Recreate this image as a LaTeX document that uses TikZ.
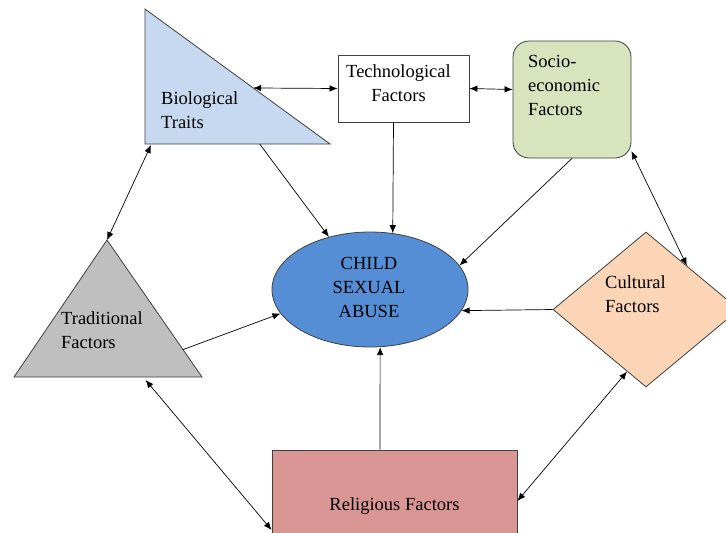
\documentclass[tikz,border=0pt]{standalone}
\usepackage{fontspec}
\setmainfont{Liberation Serif}
\usetikzlibrary{shapes.geometric,arrows.meta,calc}
\definecolor{bioblue}{RGB}{198,217,240}
\definecolor{tradgray}{RGB}{191,191,191}
\definecolor{socgreen}{RGB}{215,228,189}
\definecolor{csablue}{RGB}{85,142,213}
\definecolor{cultorange}{RGB}{251,213,181}
\definecolor{relpink}{RGB}{217,150,148}
\tikzset{
  shapebox/.style={draw=black!75, line width=0.8pt},
  txt/.style={inner sep=0pt, align=left, anchor=west},
}
\begin{document}
\begin{tikzpicture}[x=1pt, y=-1pt, font=\fontsize{18.5}{24}\selectfont,
    >={Latex[length=8pt,width=6.5pt]}]
  \useasboundingbox[fill=white] (0,0) rectangle (726,533);
  \clip (0,0) rectangle (726,533);
  \coordinate (bio-top) at (145,9);
  \coordinate (bio-bl) at (145,144);
  \coordinate (bio-br) at (330,144);
  \coordinate (trad-top) at (107,240);
  \coordinate (trad-bl) at (14,377);
  \coordinate (trad-br) at (202,377);
  \draw[shapebox, fill=bioblue] (bio-top) -- (bio-bl) -- (bio-br) -- cycle;
  \draw[shapebox, fill=tradgray] (trad-top) -- (trad-bl) -- (trad-br) -- cycle;
  \node[txt] (bio) at (161,110) {Biological\\Traits};
  \node[txt] (trad) at (61,330) {Traditional\\Factors};
  \node[shapebox, rectangle, fill=white, minimum width=131pt, minimum height=67pt]
    (tech) at (403.5,88.5) {};
  \node[inner sep=0pt, align=center] (tech-lbl) at (398.5,83) {Technological\\Factors};
  \node[shapebox, rectangle, rounded corners=16pt, fill=socgreen,
    minimum width=118pt, minimum height=117pt] (socio) at (572,99.5) {};
  \node[txt] (socio-lbl) at (528,85) {Socio-\\economic\\Factors};
  \node[shapebox, ellipse, fill=csablue, minimum width=196pt, minimum height=115pt,
    inner sep=0pt] (csa) at (370,289.5) {};
  \node[inner sep=0pt, align=center] (csa-lbl) at (369,287) {CHILD\\SEXUAL\\ABUSE};
  \node[shapebox, diamond, fill=cultorange, minimum width=186pt, minimum height=155pt,
    inner sep=0pt] (cult) at (646,309.5) {};
  \node[txt] (cult-lbl) at (605,294.5) {Cultural\\Factors};
  \node[shapebox, rectangle, fill=relpink, minimum width=245pt, minimum height=112pt]
    (rel) at (394.5,506) {Religious Factors};
  \begin{scope}[black, line width=0.7pt]
    \draw[<->] ($(bio-top)!0.585!(bio-br)$) -- (tech.west);
    \draw[<->] (tech.east) -- ([yshift=10pt]socio.west);
    \draw[->] ($(bio-bl)!0.62!(bio-br)$) -- (csa.128);
    \draw[->] ([xshift=-10pt]tech.south) -- (csa.68);
    \draw[->] (socio.south) -- (csa.15);
    \draw[<->] (socio.-41) -- (cult.47);
    \draw[<->] (trad-top) -- ($(bio-bl)+(6,1)$);
    \draw[->] ($(trad-top)!0.8!(trad-br)$) -- (csa.195);
    \draw[<->] ($(trad-bl)!0.7!(trad-br)+(0,3)$) -- ([yshift=-24pt]rel.west);
    \draw[->] ([xshift=-14.5pt]rel.north) -- (csa.-80);
    \draw[->] (cult.west) -- (csa.-13);
    \draw[<->] (cult.253) -- ([yshift=5pt]rel.east);
  \end{scope}
\end{tikzpicture}
\end{document}
